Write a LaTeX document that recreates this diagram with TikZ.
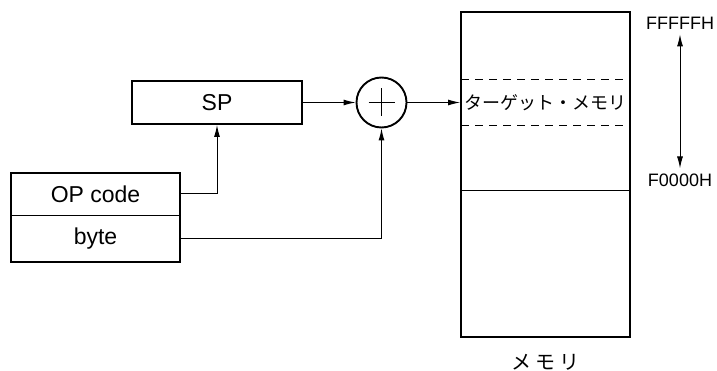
\documentclass[tikz,border=0pt]{standalone}
\usepackage{fontspec}
\setmainfont{Liberation Sans}
\newfontfamily\jpfont{Noto Sans CJK JP}
\usetikzlibrary{arrows.meta,calc,positioning}

\begin{document}
\begin{tikzpicture}[x=1pt, y=-1pt, >={Latex[length=12pt,width=6pt]},
  box/.style={draw, line width=1.9pt, rectangle, inner sep=0pt},
  cell/.style={rectangle, inner sep=0pt, minimum width=169pt, font=\fontsize{23}{27}\selectfont},
  link/.style={->, line width=1pt},
  addr/.style={font=\fontsize{18}{21}\selectfont, inner sep=0pt}]
  \useasboundingbox (0,0) rectangle (717,371);

  % Nodes
  \node[box, minimum width=170pt, minimum height=43pt, font=\fontsize{23}{27}\selectfont] (sp) at (217,102.5) {SP};
  \node[cell, minimum height=42pt] (opcode) at (95.5,194) {OP code};
  \node[cell, minimum height=46pt, below=0pt of opcode] (byte) {byte};
  \draw[line width=1.9pt] (opcode.north west) rectangle (byte.south east);
  \draw[line width=1pt] (opcode.south west) -- (opcode.south east);

  \node[draw, circle, line width=1.9pt, minimum size=50pt, inner sep=0pt] (adder) at (381.5,102.5) {};
  \draw[line width=1pt] ($(adder.center)+(-13,0)$) -- ($(adder.center)+(13,0)$);
  \draw[line width=1pt] ($(adder.center)+(0,-14)$) -- ($(adder.center)+(0,14)$);

  % Memory
  \node[box, minimum width=169pt, minimum height=325pt] (mem) at (545.5,174.5) {};
  \draw[line width=1pt, dash pattern=on 8pt off 6pt] ($(mem.north west)+(1,68)$) -- ($(mem.north east)+(-6,68)$);
  \draw[line width=1pt, dash pattern=on 8pt off 6pt] ($(mem.north west)+(1,114)$) -- ($(mem.north east)+(-6,114)$);
  \draw[line width=1pt] ($(mem.north west)+(0,179)$) -- ($(mem.north east)+(0,179)$);
  \node[font=\jpfont\fontsize{18}{21}\selectfont, inner sep=0pt] (target) at (545,103) {ターゲット・メモリ};
  \node[font=\jpfont\fontsize{20}{24}\selectfont, inner sep=0pt] (memlabel) at (545,362) {メ\hspace{4pt}モ\hspace{4pt}リ};

  % Addresses
  \node[addr] (hi) at (680,23) {FFFFFH};
  \node[addr] (lo) at (680,180) {F0000H};
  \draw[<->, line width=1pt] ($(hi.south)+(0,5)$) -- ($(lo.north)+(0,-5)$);

  % Arrows
  \draw[link] (opcode.east) -| (sp.south);
  \draw[link] (byte.east) -| (adder.south);
  \draw[link] (sp.east) -- (adder.west);
  \draw[link] (adder.east) -- (adder.east -| mem.west);
\end{tikzpicture}
\end{document}
